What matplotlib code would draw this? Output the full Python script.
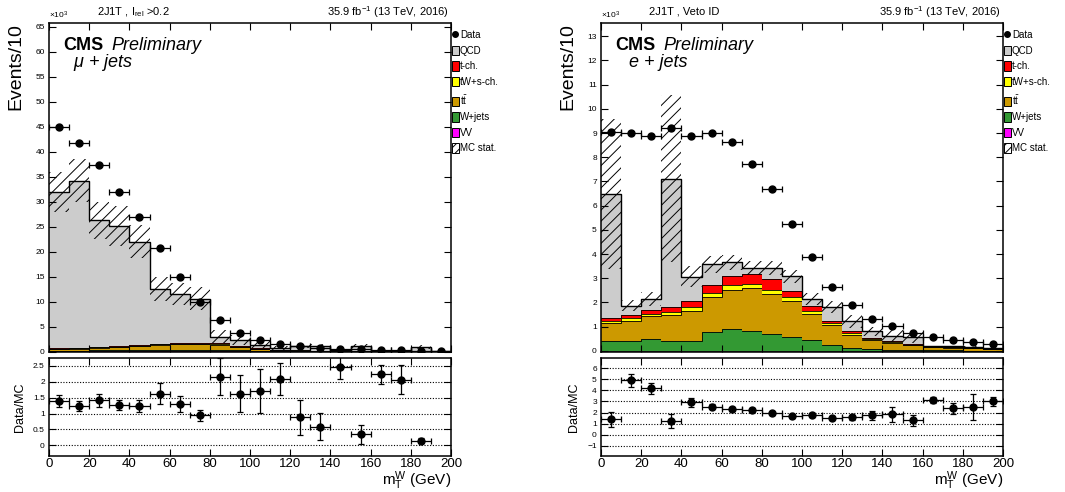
import numpy as np
import matplotlib
matplotlib.use("Agg")
import matplotlib.pyplot as plt
from matplotlib.patches import Patch
from matplotlib.lines import Line2D

plt.rcParams['font.family'] = ['Liberation Sans', 'DejaVu Sans']
plt.rcParams['mathtext.fontset'] = 'custom'
plt.rcParams['mathtext.rm'] = 'Liberation Sans'
plt.rcParams['mathtext.it'] = 'Liberation Sans:italic'
plt.rcParams['mathtext.bf'] = 'Liberation Sans:bold'
plt.rcParams['hatch.linewidth'] = 0.7

# ---------------- data ----------------
bin_edges = [0, 10, 20, 30, 40, 50, 60, 70, 80, 90, 100,
             110, 120, 130, 140, 150, 160, 170, 180, 190, 200]

# mu + jets (x10^3 events / 10 GeV)
mu_data = [44.9, 41.7, 37.3, 32.0, 27.0, 20.7, 15.0, 10.0, 6.3, 3.8,
           2.35, 1.5, 1.1, 0.75, 0.6, 0.45, 0.35, 0.3, 0.2, 0.12]
mu_vv = [0.02, 0.02, 0.02, 0.02, 0.02, 0.02, 0.02, 0.02, 0.02, 0.02,
         0.02, 0.01, 0.01, 0.01, 0.01, 0.01, 0.01, 0.01, 0.01, 0.01]
mu_wjets = [0.15, 0.15, 0.2, 0.2, 0.25, 0.3, 0.3, 0.3, 0.35, 0.25,
            0.15, 0.1, 0.06, 0.04, 0.03, 0.02, 0.02, 0.01, 0.01, 0.01]
mu_tt = [0.35, 0.4, 0.55, 0.65, 0.85, 1.0, 1.1, 1.15, 1.0, 0.6,
         0.35, 0.2, 0.12, 0.08, 0.05, 0.04, 0.03, 0.02, 0.02, 0.01]
mu_tw = [0.05, 0.05, 0.06, 0.07, 0.08, 0.1, 0.1, 0.1, 0.1, 0.07,
         0.05, 0.03, 0.02, 0.01, 0.01, 0.01, 0.01, 0.01, 0.0, 0.0]
mu_tch = [0.1, 0.1, 0.12, 0.14, 0.15, 0.17, 0.18, 0.18, 0.15, 0.1,
          0.07, 0.05, 0.03, 0.02, 0.02, 0.01, 0.01, 0.01, 0.01, 0.0]
mu_qcd = [31.3, 33.4, 25.3, 24.1, 20.6, 11.0, 9.8, 8.85, 1.3, 1.25,
          0.76, 0.32, 0.95, 1.0, 0.17, 1.0, 0.09, 0.08, 0.84, 0.08]
mu_stat = [4.0, 4.3, 3.7, 4.0, 3.3, 2.4, 2.2, 2.3, 1.3, 1.0,
           0.7, 0.4, 0.4, 0.35, 0.2, 0.4, 0.1, 0.1, 0.35, 0.05]
mu_ratio = [1.40, 1.23, 1.42, 1.27, 1.23, 1.63, 1.30, 0.94, 2.16, 1.63,
            1.72, 2.08, 0.875, 0.59, 2.47, 0.34, 2.24, 2.07, 0.135]
mu_ratio_err = [0.19, 0.16, 0.20, 0.17, 0.18, 0.32, 0.26, 0.18, 0.59, 0.57,
                0.69, 0.50, 0.55, 0.44, 0.39, 0.31, 0.30, 0.46, 0.08]

# e + jets (x10^3 events / 10 GeV)
e_data = [9.06, 9.0, 8.88, 9.21, 8.88, 8.99, 8.62, 7.72, 6.67, 5.23,
          3.86, 2.64, 1.89, 1.31, 1.01, 0.73, 0.58, 0.44, 0.36, 0.29]
e_vv = [0.01, 0.01, 0.01, 0.01, 0.01, 0.01, 0.01, 0.01, 0.01, 0.01,
        0.01, 0.01, 0.01, 0.01, 0.01, 0.01, 0.01, 0.01, 0.005, 0.005]
e_wjets = [0.38, 0.40, 0.49, 0.38, 0.40, 0.76, 0.90, 0.79, 0.68, 0.58,
           0.45, 0.24, 0.10, 0.06, 0.03, 0.02, 0.01, 0.01, 0.005, 0.005]
e_tt = [0.76, 0.83, 0.92, 1.08, 1.25, 1.44, 1.62, 1.80, 1.66, 1.46,
        1.06, 0.80, 0.55, 0.39, 0.28, 0.19, 0.13, 0.11, 0.09, 0.06]
e_tw = [0.09, 0.10, 0.12, 0.12, 0.14, 0.18, 0.21, 0.18, 0.18, 0.16,
        0.11, 0.10, 0.06, 0.03, 0.03, 0.03, 0.01, 0.01, 0.01, 0.01]
e_tch = [0.12, 0.13, 0.16, 0.21, 0.25, 0.31, 0.34, 0.40, 0.42, 0.28,
         0.21, 0.09, 0.08, 0.04, 0.04, 0.03, 0.02, 0.01, 0.01, 0.0]
e_qcd = [5.11, 0.40, 0.44, 5.32, 1.02, 0.87, 0.57, 0.25, 0.48, 0.59,
         0.30, 0.56, 0.42, 0.27, 0.21, 0.27, 0.01, 0.035, 0.03, 0.02]
e_stat = [3.1, 0.22, 0.28, 3.47, 0.43, 0.35, 0.3, 0.3, 0.3, 0.28,
          0.24, 0.24, 0.28, 0.2, 0.24, 0.24, 0.02, 0.02, 0.05, 0.02]
e_ratio = [1.38, 4.88, 4.18, 1.24, 2.91, 2.53, 2.32, 2.24, 1.94, 1.70,
           1.79, 1.50, 1.56, 1.74, 1.85, 1.29, 3.12, 2.38, 2.47, 3.00]
e_ratio_err = [0.66, 0.59, 0.47, 0.65, 0.44, 0.20, 0.15, 0.20, 0.15, 0.15,
               0.15, 0.15, 0.20, 0.44, 0.66, 0.53, 0.30, 0.47, 1.18, 0.44]

labels = ['Data', 'QCD', 't-ch.', 'tW+s-ch.', r't$\bar{\mathrm{t}}$', 'W+jets', 'VV', 'MC stat.']
colors = {'qcd': '#cccccc', 'tch': '#ff0000', 'tw': '#ffff00',
          'tt': '#cc9900', 'wjets': '#339933', 'vv': '#ff00ff'}

W, H = 1065, 492
fig = plt.figure(figsize=(W / 100, H / 100), dpi=100)

MAIN_TOP, MAIN_BOT = 23, 352
RAT_TOP, RAT_BOT = 358, 456


def fx(px):
    return px / W


def fy(py):
    return 1 - py / H


def style_axes(ax, ysize):
    ax.tick_params(direction='in', top=True, right=True, length=5, width=0.8,
                   labelsize=ysize, pad=3)
    for s in ax.spines.values():
        s.set_linewidth(1.1)


def panel(x0, comps, data, stat, ratio, rerr, ylim, yticks, rlim, rticks,
          header, chan, chan_dx):
    edges = np.array(bin_edges, dtype=float)
    centers = 0.5 * (edges[1:] + edges[:-1])
    halfw = 0.5 * (edges[1:] - edges[:-1])
    axw = 402
    mh = MAIN_BOT - MAIN_TOP
    ax = fig.add_axes([fx(x0), fy(MAIN_BOT), fx(axw), mh / H])
    axr = fig.add_axes([fx(x0), fy(RAT_BOT), fx(axw), (RAT_BOT - RAT_TOP) / H])

    base = np.zeros(len(centers))
    for key in ['vv', 'wjets', 'tt', 'tw', 'tch', 'qcd']:
        vals = np.array(comps[key], dtype=float)
        top = base + vals
        ax.stairs(top, edges, baseline=base, fill=True, facecolor=colors[key],
                  edgecolor='none', linewidth=0)
        ax.stairs(top, edges, color='black', linewidth=0.6, baseline=None)
        base = top
    total = base
    st = np.array(stat, dtype=float)
    ax.stairs(total + st, edges, baseline=total - st, fill=True, facecolor='none',
              edgecolor='black', hatch='///', linewidth=0)
    ax.stairs(total, edges, color='black', linewidth=1.0, baseline=None)

    ax.errorbar(centers, data, xerr=halfw, fmt='o', color='black', ms=5,
                capsize=2, elinewidth=0.9, capthick=0.9)

    ax.set_xlim(0, 200)
    ax.set_ylim(*ylim)
    ax.set_yticks(yticks)
    ax.set_xticks(np.arange(0, 201, 20))
    ax.tick_params(labelbottom=False)
    style_axes(ax, 6)

    def ay(py):
        return (MAIN_BOT - py) / mh

    ax.text(0.0, ay(21), r'$\times$10$^{3}$', transform=ax.transAxes, fontsize=6,
            ha='left', va='bottom')
    ax.text(0.035, ay(50), 'CMS', transform=ax.transAxes, fontsize=13,
            fontweight='bold', ha='left', va='baseline')
    ax.text(0.155, ay(50), 'Preliminary', transform=ax.transAxes, fontsize=13,
            fontstyle='italic', ha='left', va='baseline')
    ax.text(chan_dx, ay(67), chan, transform=ax.transAxes, fontsize=13,
            fontstyle='italic', ha='left', va='baseline')
    ax.text(0.12, ay(12), header, transform=ax.transAxes, fontsize=8,
            ha='left', va='center')
    ax.text(0.995, ay(12), r'35.9 fb$^{-1}$ (13 TeV, 2016)', transform=ax.transAxes,
            fontsize=8, ha='right', va='center')
    ax.set_ylabel('Events/10', fontsize=14, loc='top', labelpad=8)

    handles = [Line2D([], [], marker='o', color='black', linestyle='none', ms=4)]
    for key in ['qcd', 'tch', 'tw', 'tt', 'wjets', 'vv']:
        handles.append(Patch(facecolor=colors[key], edgecolor='black', linewidth=0.7))
    handles.append(Patch(facecolor='white', edgecolor='black', hatch='////', linewidth=0.7))
    ax.legend(handles, labels, loc='upper left', bbox_to_anchor=(1.003, ay(30)),
              frameon=False, fontsize=7, handlelength=0.65, handleheight=1.1,
              handletextpad=0.15, labelspacing=0.58, borderaxespad=0, borderpad=0)

    n = len(ratio)
    axr.errorbar(centers[:n], ratio, xerr=halfw[:n], yerr=rerr, fmt='o',
                 color='black', ms=5, capsize=2, elinewidth=0.9, capthick=0.9)
    axr.set_xlim(0, 200)
    axr.set_ylim(*rlim)
    axr.set_yticks(rticks)
    axr.set_yticklabels([('%g' % t).replace('-', '\u2212') for t in rticks])
    axr.set_xticks(np.arange(0, 201, 20))
    axr.yaxis.grid(True, linestyle=(0, (1, 1.5)), color='black', linewidth=0.8)
    style_axes(axr, 6)
    axr.tick_params(axis='x', labelsize=9.5, pad=1.5)
    axr.set_ylabel('Data/MC', fontsize=9, labelpad=5)
    axr.set_xlabel(r'$\mathrm{m}_{\mathrm{T}}^{\mathrm{W}}$ (GeV)', fontsize=11,
                   loc='right')
    rh = RAT_BOT - RAT_TOP
    axr.xaxis.set_label_coords(1.0, (RAT_BOT - 469) / rh)
    return ax, axr


mu_comps = {'vv': mu_vv, 'wjets': mu_wjets, 'tt': mu_tt, 'tw': mu_tw,
            'tch': mu_tch, 'qcd': mu_qcd}
e_comps = {'vv': e_vv, 'wjets': e_wjets, 'tt': e_tt, 'tw': e_tw,
           'tch': e_tch, 'qcd': e_qcd}

panel(49, mu_comps, mu_data, mu_stat, mu_ratio, mu_ratio_err,
      (-0.1, 65.7), np.arange(0, 66, 5), (-0.34, 2.75), [0, 0.5, 1, 1.5, 2, 2.5],
      r'2J1T , I$_{\mathrm{rel}}$ >0.2', r'$\mu$ + jets', 0.06)
panel(601, e_comps, e_data, e_stat, e_ratio, e_ratio_err,
      (-0.05, 13.55), np.arange(0, 14, 1), (-1.9, 6.9), [-1, 0, 1, 2, 3, 4, 5, 6],
      '2J1T , Veto ID', 'e + jets', 0.07)

fig.savefig('out.png', dpi=100)
